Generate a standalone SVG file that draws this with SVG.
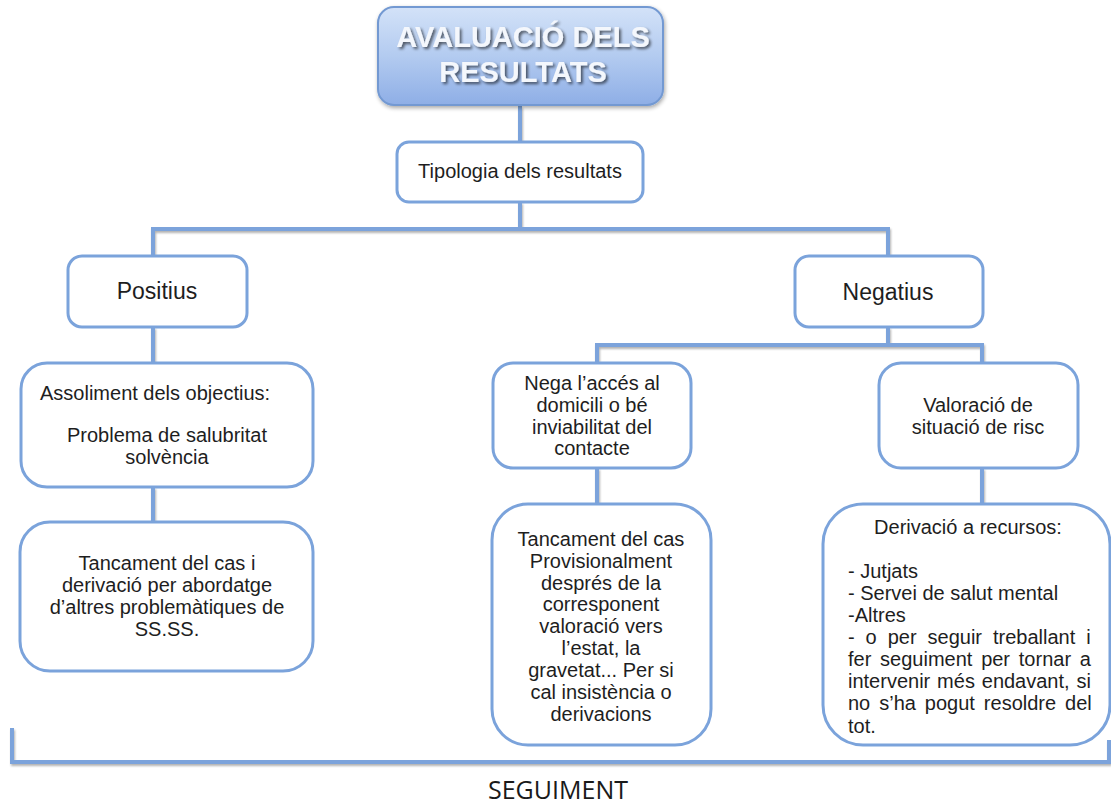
<svg xmlns="http://www.w3.org/2000/svg" width="1111" height="807" viewBox="0 0 1111 807">
<defs>
<linearGradient id="tg" x1="0" y1="0" x2="0" y2="1">
<stop offset="0" stop-color="#d3e2f8"/>
<stop offset="0.5" stop-color="#b3cbf0"/>
<stop offset="1" stop-color="#8eaee6"/>
</linearGradient>
<filter id="sh" x="-10%" y="-10%" width="130%" height="140%">
<feGaussianBlur in="SourceAlpha" stdDeviation="2"/>
<feOffset dx="1" dy="2" result="b"/>
<feComponentTransfer><feFuncA type="linear" slope="0.35"/></feComponentTransfer>
<feMerge><feMergeNode/><feMergeNode in="SourceGraphic"/></feMerge>
</filter>
<filter id="ts" x="-10%" y="-20%" width="120%" height="160%">
<feGaussianBlur in="SourceAlpha" stdDeviation="1.5"/>
<feOffset dx="1.5" dy="2" result="b"/>
<feComponentTransfer><feFuncA type="linear" slope="0.6"/></feComponentTransfer>
<feMerge><feMergeNode/><feMergeNode in="SourceGraphic"/></feMerge>
</filter>
<filter id="ls" x="-5%" y="-50%" width="110%" height="200%">
<feGaussianBlur in="SourceAlpha" stdDeviation="1"/>
<feOffset dx="1" dy="1.5"/>
<feComponentTransfer><feFuncA type="linear" slope="0.3"/></feComponentTransfer>
<feMerge><feMergeNode/><feMergeNode in="SourceGraphic"/></feMerge>
</filter>
</defs>
<style>
.box{fill:#ffffff;stroke:#7ba3db;stroke-width:3}
.t{font-family:"Liberation Sans",Arial,sans-serif;font-size:20px;fill:#1e1e1e}
.c{text-anchor:middle}
.big{font-size:23px}
.con{fill:none;stroke:#7ba3db;stroke-width:4}
</style>
<rect width="1111" height="807" fill="#ffffff"/>

<g id="connectors" filter="url(#ls)">
<path class="con" d="M520,106 V142"/>
<path class="con" d="M520,202 V229"/>
<path class="con" d="M153,256 V229 H888 V256"/>
<path class="con" d="M153,327 V363"/>
<path class="con" d="M153,487 V522"/>
<path class="con" d="M888,327 V345"/>
<path class="con" d="M597,363 V345 H982 V363"/>
<path class="con" d="M597,468 V504"/>
<path class="con" d="M982,468 V504"/>
<path class="con" d="M12,728 V762 H1109 V740"/>
</g>

<g id="title">
<rect x="378" y="7" width="285" height="98" rx="16" fill="url(#tg)" stroke="#7399d2" stroke-width="2" filter="url(#sh)"/>
<g filter="url(#ts)">
<text class="t c" x="523" y="47" style="font-size:29px;font-weight:bold;fill:#f4f7fc">AVALUACIÓ DELS</text>
<text class="t c" x="523" y="82" style="font-size:29px;font-weight:bold;fill:#f4f7fc">RESULTATS</text>
</g>
</g>

<g id="tipologia">
<rect class="box" x="397" y="142" width="246" height="60" rx="12"/>
<text class="t c" x="520" y="178">Tipologia dels resultats</text>
</g>

<g id="positius">
<rect class="box" x="68" y="256" width="179" height="71" rx="14"/>
<text class="t c big" x="157" y="299">Positius</text>
</g>

<g id="negatius">
<rect class="box" x="795" y="256" width="188" height="71" rx="14"/>
<text class="t c big" x="888" y="300">Negatius</text>
</g>

<g id="assoliment">
<rect class="box" x="21" y="363" width="292" height="124" rx="26"/>
<text class="t" x="40" y="400">Assoliment dels objectius:</text>
<text class="t c" x="167" y="442">Problema de salubritat</text>
<text class="t c" x="167" y="464">solvència</text>
</g>

<g id="tancament1">
<rect class="box" x="20" y="522" width="293" height="149" rx="30"/>
<text class="t c" x="167" y="570">Tancament del cas i</text>
<text class="t c" x="167" y="592">derivació per abordatge</text>
<text class="t c" x="167" y="614">d’altres problemàtiques de</text>
<text class="t c" x="167" y="636">SS.SS.</text>
</g>

<g id="nega">
<rect class="box" x="493" y="363" width="198" height="105" rx="20"/>
<text class="t c" x="592" y="390">Nega l’accés al</text>
<text class="t c" x="592" y="412">domicili o bé</text>
<text class="t c" x="592" y="434">inviabilitat del</text>
<text class="t c" x="592" y="455">contacte</text>
</g>

<g id="valoracio">
<rect class="box" x="879" y="363" width="199" height="105" rx="22"/>
<text class="t c" x="978" y="412">Valoració de</text>
<text class="t c" x="978" y="434">situació de risc</text>
</g>

<g id="tancament2">
<rect class="box" x="492" y="504" width="219" height="241" rx="36"/>
<text class="t c" x="601" y="546">Tancament del cas</text>
<text class="t c" x="601" y="568">Provisionalment</text>
<text class="t c" x="601" y="590">després de la</text>
<text class="t c" x="601" y="611">corresponent</text>
<text class="t c" x="601" y="633">valoració vers</text>
<text class="t c" x="601" y="655">l’estat, la</text>
<text class="t c" x="601" y="677">gravetat... Per si</text>
<text class="t c" x="601" y="699">cal insistència o</text>
<text class="t c" x="601" y="721">derivacions</text>
</g>

<g id="derivacio">
<rect class="box" x="823" y="504" width="287" height="241" rx="40"/>
<text class="t c" x="968" y="534">Derivació a recursos:</text>
<text class="t" x="848" y="578">- Jutjats</text>
<text class="t" x="848" y="600">- Servei de salut mental</text>
<text class="t" x="848" y="622">-Altres</text>
<text class="t" x="848" y="644" word-spacing="5.4">- o per seguir treballant i</text>
<text class="t" x="848" y="666" word-spacing="3.2">fer seguiment per tornar a</text>
<text class="t" x="848" y="688" word-spacing="1.3">intervenir més endavant, si</text>
<text class="t" x="848" y="710" word-spacing="3.4">no s’ha pogut resoldre del</text>
<text class="t" x="848" y="733">tot.</text>
</g>

<g id="seguiment">
<text x="558" y="799" text-anchor="middle" style="font-family:'Open Sans','Liberation Sans',sans-serif;font-size:25px;fill:#1a1a1a">SEGUIMENT</text>
</g>
</svg>
